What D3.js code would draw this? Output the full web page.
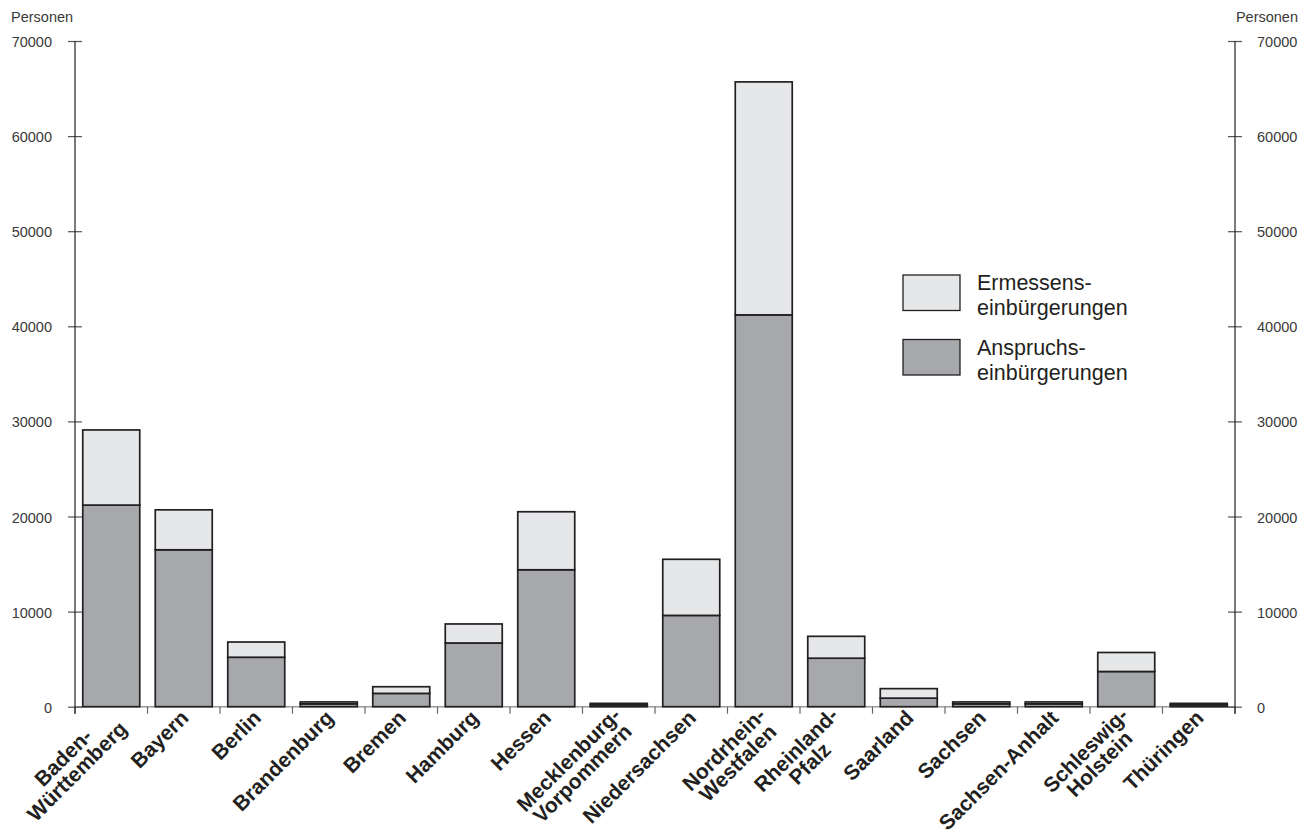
<!DOCTYPE html>
<html><head><meta charset="utf-8">
<script src="https://cdn.jsdelivr.net/npm/d3@7"></script>
<style>body{margin:0;background:#fff}</style>
</head><body>
<svg id="chart" width="1314" height="834"></svg>
<script>
const categories = ["Baden-\nWürttemberg","Bayern","Berlin","Brandenburg","Bremen","Hamburg","Hessen","Mecklenburg-\nVorpommern","Niedersachsen","Nordrhein-\nWestfalen","Rheinland-\nPfalz","Saarland","Sachsen","Sachsen-Anhalt","Schleswig-\nHolstein","Thüringen"];
const anspruch = [21200,16500,5200,300,1400,6700,14400,200,9600,41200,5100,900,300,300,3700,200];
const ermessen = [7900,4200,1600,200,700,2000,6100,150,5900,24500,2300,1000,200,200,2000,150];
const yTicks = [0,10000,20000,30000,40000,50000,60000,70000];
const seriesNames = [["Ermessens-","einbürgerungen"],["Anspruchs-","einbürgerungen"]];
const axisTitle = "Personen";

const svg = d3.select("#chart");
const L = 75, R = 1235, T = 41, B = 706.7;
const dark = "#231f20", fillDark = "#a7a8ab", fillLight = "#e6e7e8";
const numFont = "'Liberation Sans', Arial, sans-serif";

const x = d3.scaleBand().domain(categories).range([L, R]).paddingInner(0.214).paddingOuter(0.107);
const y = d3.scaleLinear().domain([0, 70000]).range([B, T]);

const table = categories.map((c, i) => ({cat: c, anspruch: anspruch[i], ermessen: ermessen[i]}));
const stack = d3.stack().keys(["anspruch", "ermessen"])(table);
const fills = {anspruch: fillDark, ermessen: fillLight};

// baseline (under bars)
svg.append("line").attr("x1", L).attr("x2", R).attr("y1", y(0)).attr("y2", y(0))
  .attr("stroke", "#9a9a9a").attr("stroke-width", 1.6);

// bars
svg.append("g").selectAll("g").data(stack).join("g")
  .attr("fill", d => fills[d.key])
  .selectAll("rect").data(d => d).join("rect")
  .attr("x", d => x(d.data.cat))
  .attr("width", x.bandwidth())
  .attr("y", d => y(d[1]))
  .attr("height", d => y(d[0]) - y(d[1]))
  .attr("stroke", dark).attr("stroke-width", 1.7);

// bottom ticks at category boundaries
const step = x.step();
const bounds = d3.range(categories.length + 1).map(k => L + k * step);
svg.append("g").selectAll("line").data(bounds).join("line")
  .attr("x1", d => d).attr("x2", d => d)
  .attr("y1", y(0)).attr("y2", y(0) + 7)
  .attr("stroke", "#666").attr("stroke-width", 1.2);

// left axis
const gl = svg.append("g").attr("transform", `translate(${L},0)`)
  .call(d3.axisLeft(y).tickValues(yTicks).tickFormat(d3.format("d")).tickSize(7).tickPadding(16));
gl.select(".domain").remove();
gl.selectAll(".tick line").attr("x1", -7).attr("x2", 7).attr("stroke", "#555").attr("stroke-width", 1.2);
gl.selectAll(".tick text").attr("font-family", numFont).attr("font-size", 14.5).attr("fill", "#3a3a3a").attr("dy", "0.38em");
gl.append("line").attr("x1", 0).attr("x2", 0).attr("y1", y(70000)).attr("y2", y(0) + 7).attr("stroke", dark).attr("stroke-width", 1.2);

// right axis
const gr = svg.append("g").attr("transform", `translate(${R},0)`)
  .call(d3.axisRight(y).tickValues(yTicks).tickFormat(d3.format("d")).tickSize(7).tickPadding(15));
gr.select(".domain").remove();
gr.selectAll(".tick line").attr("x1", -7).attr("x2", 7).attr("stroke", "#555").attr("stroke-width", 1.2);
gr.selectAll(".tick text").attr("font-family", numFont).attr("font-size", 14.5).attr("fill", "#3a3a3a").attr("dy", "0.38em");
gr.append("line").attr("x1", 0).attr("x2", 0).attr("y1", y(70000)).attr("y2", y(0) + 7).attr("stroke", dark).attr("stroke-width", 1.2);

// axis titles
svg.append("text").attr("x", 11).attr("y", 22).text(axisTitle)
  .attr("font-family", numFont).attr("font-size", 14.5).attr("fill", "#3a3a3a");
svg.append("text").attr("x", 1298).attr("y", 22).attr("text-anchor", "end").text(axisTitle)
  .attr("font-family", numFont).attr("font-size", 14.5).attr("fill", "#3a3a3a");

// x labels
const lab = svg.append("g").selectAll("g").data(categories).join("g")
  .attr("transform", d => `translate(${x(d) + x.bandwidth() / 2 + 6},${y(0) + 12.5}) rotate(-45)`);
lab.each(function(d) {
  const lines = d.split("\n");
  const t = d3.select(this).append("text")
    .attr("text-anchor", "end").attr("font-family", numFont)
    .attr("font-weight", "bold").attr("font-size", 21).attr("fill", dark);
  const spans = lines.map((ln, i) => t.append("tspan").attr("x", 0).attr("y", (i - (lines.length > 1 ? 0.2 : 0)) * 19.5).text(ln));
  const widths = spans.map(s => s.node().getComputedTextLength());
  const maxW = d3.max(widths);
  spans.forEach((s, i) => s.attr("x", -(maxW - widths[i]) / 2));
});

// legend
const legFills = [fillLight, fillDark];
const leg = svg.append("g").selectAll("g").data(seriesNames).join("g")
  .attr("transform", (d, i) => `translate(903,${275 + i * 64.5})`);
leg.append("rect").attr("width", 57).attr("height", 35.5)
  .attr("fill", (d, i) => legFills[i]).attr("stroke", dark).attr("stroke-width", 1.3);
leg.each(function(d) {
  d3.select(this).selectAll("text.ll").data(d).join("text").attr("class", "ll")
    .attr("font-family", numFont).attr("font-size", 21.5).attr("fill", dark)
    .attr("x", 74).attr("y", (s, i) => 15 + i * 25).text(s => s);
});
</script>
</body></html>
